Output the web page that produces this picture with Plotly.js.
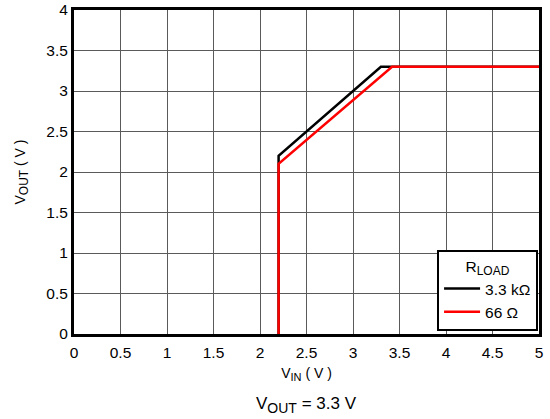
<!DOCTYPE html>
<html>
<head>
<meta charset="utf-8">
<script src="https://cdn.plot.ly/plotly-3.0.1.min.js"></script>
<style>html,body{margin:0;padding:0;background:#fff;}#chart{width:550px;height:419px;}</style>
</head>
<body>
<div id="chart"></div>
<script>
// Data
const vinHigh = [2.2, 2.2, 3.3, 5.0];   // R_LOAD = 3.3 kΩ
const voutHigh = [0, 2.2, 3.3, 3.3];
const vinLow = [2.2, 2.2, 3.42, 5.0];   // R_LOAD = 66 Ω
const voutLow = [0, 2.1, 3.3, 3.3];
const seriesNames = ['3.3 kΩ', '66 Ω'];
const xTicks = [0, 0.5, 1, 1.5, 2, 2.5, 3, 3.5, 4, 4.5, 5];
const yTicks = [0, 0.5, 1, 1.5, 2, 2.5, 3, 3.5, 4];

const font = 'Liberation Sans, Arial, sans-serif';
const sub = (t, px) => '<sub><span style="font-size:' + px + 'px">' + t + '</span></sub>';
const traces = [
  {x: vinHigh, y: voutHigh, name: seriesNames[0], mode: 'lines', line: {color: '#000000', width: 2.5}},
  {x: vinLow, y: voutLow, name: seriesNames[1], mode: 'lines', line: {color: '#ff0000', width: 2.5}}
];
const layout = {
  width: 550, height: 419,
  margin: {l: 74, r: 11, t: 10, b: 85},
  paper_bgcolor: '#ffffff', plot_bgcolor: '#ffffff',
  font: {family: font, size: 15, color: '#000'},
  showlegend: true,
  legend: {
    x: 0.998, xanchor: 'right', y: 0.01, yanchor: 'bottom',
    bgcolor: '#ffffff', bordercolor: '#000', borderwidth: 2,
    title: {text: 'R' + sub('LOAD', 12), side: 'top center', font: {family: font, size: 15.5}},
    font: {family: font, size: 15.5},
    itemwidth: 36, tracegroupgap: 0
  },
  xaxis: {
    range: [0, 5], tickvals: xTicks, ticktext: xTicks.map(String),
    showgrid: true, gridcolor: '#5a5a5a', gridwidth: 1,
    showline: true, linecolor: '#000', linewidth: 3, mirror: true,
    ticks: '', zeroline: false, fixedrange: true, ticklabelstandoff: 2,
    tickfont: {family: font, size: 15.5},
    title: {text: 'V' + sub('IN', 11) + ' ( V )', font: {family: font, size: 14}, standoff: 9}
  },
  yaxis: {
    range: [0, 4], tickvals: yTicks, ticktext: yTicks.map(String),
    showgrid: true, gridcolor: '#5a5a5a', gridwidth: 1,
    showline: true, linecolor: '#000', linewidth: 3, mirror: true,
    ticks: '', zeroline: false, fixedrange: true,
    tickfont: {family: font, size: 15.5},
    title: {text: 'V' + sub('OUT', 12) + ' ( V )', font: {family: font, size: 14}, standoff: 18}
  },
  annotations: [{
    text: 'V' + sub('OUT', 14) + ' = 3.3 V', xref: 'paper', yref: 'paper',
    x: 0.5, y: -0.22, xanchor: 'center', yanchor: 'middle', showarrow: false,
    font: {family: font, size: 17, color: '#000'}
  }]
};
Plotly.newPlot('chart', traces, layout, {displayModeBar: false, staticPlot: true});
</script>
</body>
</html>
